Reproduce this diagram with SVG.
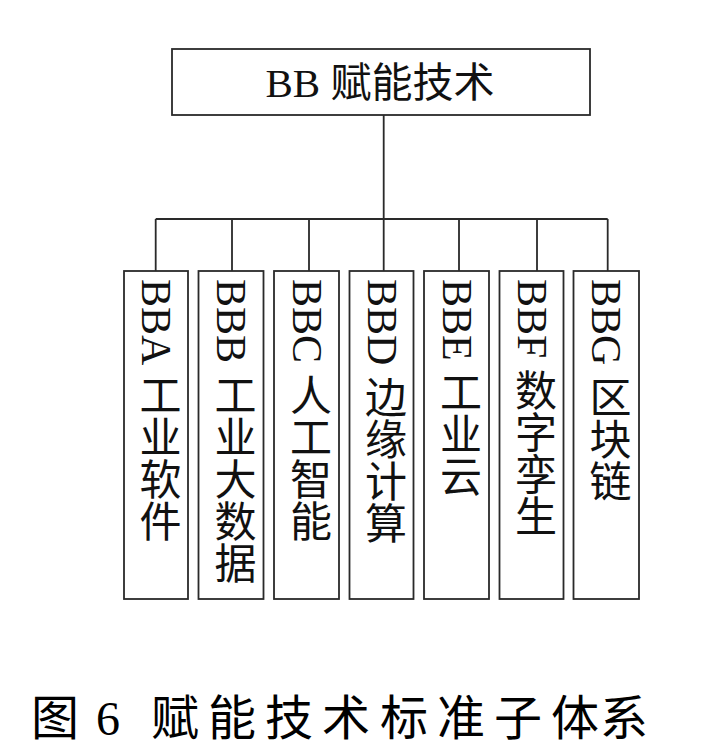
<svg xmlns="http://www.w3.org/2000/svg" width="718" height="754" viewBox="0 0 718 754">
<style>
.box{fill:#fff;stroke:#2a2a2a;stroke-width:1.8}
.ln{fill:none;stroke:#2a2a2a;stroke-width:1.8}
.t{font-family:"Liberation Serif","Noto Sans CJK SC",serif;font-size:41px;fill:#111}
.v{writing-mode:vertical-rl;text-orientation:mixed;font-size:42px}
.cap{font-family:"Liberation Serif","Noto Sans CJK SC",serif;font-size:48px;fill:#000}
</style>
<rect width="718" height="754" fill="#fff"/>
<g id="connectors">
<path class="ln" d="M383.7 115V219M155.7 219H607.7M155.7 219V271M232 219V271M309 219V271M383.7 219V271M459 219V271M537 219V271M607.7 219V271"/>
</g>
<g id="root">
<rect class="box" x="172" y="49" width="418" height="66"/>
<text class="t" x="380" y="97" text-anchor="middle">BB 赋能技术</text>
</g>
<g id="BBA">
<rect class="box" x="124" y="271" width="64" height="328"/>
<text class="t v" x="156" y="279">BBA 工业软件</text>
</g>
<g id="BBB">
<rect class="box" x="198.5" y="271" width="65" height="328"/>
<text class="t v" x="231" y="279">BBB 工业大数据</text>
</g>
<g id="BBC">
<rect class="box" x="274" y="271" width="65" height="328"/>
<text class="t v" x="306.5" y="279">BBC 人工智能</text>
</g>
<g id="BBD">
<rect class="box" x="349.5" y="271" width="64" height="328"/>
<text class="t v" x="381.5" y="279">BBD 边缘计算</text>
</g>
<g id="BBE">
<rect class="box" x="424" y="271" width="65" height="328"/>
<text class="t v" x="456.5" y="279">BBE 工业云</text>
</g>
<g id="BBF">
<rect class="box" x="499.5" y="271" width="64" height="328"/>
<text class="t v" x="531.5" y="279">BBF 数字孪生</text>
</g>
<g id="BBG">
<rect class="box" x="573.5" y="271" width="65.5" height="328"/>
<text class="t v" x="606" y="279">BBG 区块链</text>
</g>
<g id="caption">
<text class="cap" x="31 85 96 130 151 208 265 322 380 437 494 551 600" y="735">图 6 赋能技术标准子体系</text>
</g>
</svg>
